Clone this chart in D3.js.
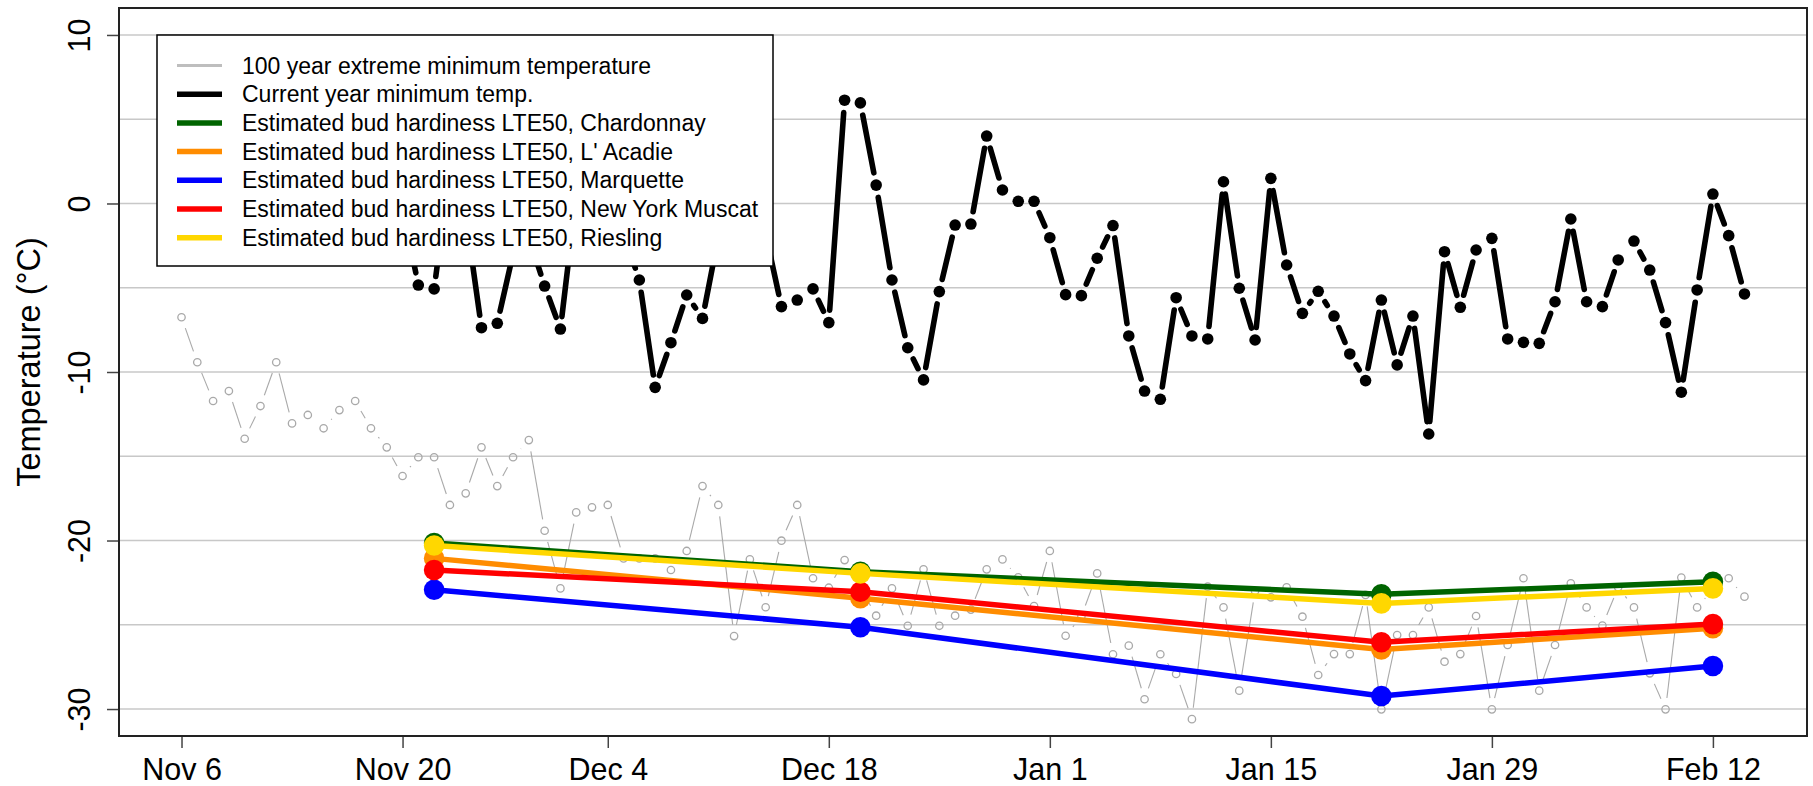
<!DOCTYPE html>
<html>
<head>
<meta charset="utf-8">
<script src="https://cdn.jsdelivr.net/npm/d3@7"></script>
<style>
  body { margin: 0; background: #fff; }
  svg { display: block; font-family: "Liberation Sans", Arial, sans-serif; }
</style>
</head>
<body>
<div id="my_dataviz"></div>
<script>
// x is the day index of the season (0 = Nov 6)
const tickDays = [0, 14, 27, 41, 55, 69, 83, 97];
const tickLabels = ["Nov 6", "Nov 20", "Dec 4", "Dec 18", "Jan 1", "Jan 15", "Jan 29", "Feb 12"];
const yTicks = [-30, -20, -10, 0, 10];
const yGrid = [-30, -25, -20, -15, -10, -5, 0, 5, 10];

// 100 year extreme minimum, day 0..99
const extremeMin = [-6.75, -9.42, -11.72, -11.13, -13.96, -12.02, -9.42, -13.05, -12.55, -13.34,
  -12.26, -11.72, -13.34, -14.47, -16.17, -15.06, -15.06, -17.89, -17.2, -14.47,
  -16.77, -15.06, -14.04, -19.42, -22.84, -18.33, -18.03, -17.89, -21.06, -21.06,
  -21.06, -21.75, -20.62, -16.77, -17.89, -25.67, -21.12, -23.96, -20.01, -17.89,
  -22.24, -22.8, -21.16, -22.8, -24.46, -22.84, -25.06, -21.71, -25.06, -24.46,
  -24.1, -21.71, -21.12, -22.18, -23.89, -20.62, -25.65, -24.5, -21.95, -26.75,
  -26.24, -29.42, -26.75, -27.92, -30.6, -22.74, -23.97, -28.91, -23.0, -23.37,
  -22.78, -24.52, -27.98, -26.74, -26.74, -23.23, -30.02, -25.61, -25.61, -23.97,
  -27.19, -26.74, -24.48, -30.02, -26.2, -22.24, -28.91, -26.2, -22.54, -23.97,
  -25.05, -22.78, -23.97, -27.88, -30.02, -22.2, -23.97, -22.9, -22.24, -23.33];

// current year minimum, day 14..99
const currentStart = 14;
const currentMin = [-0.3, -4.84, -5.07, 2.0, -0.7, -7.37, -7.11, -3.0, -2.0, -4.9,
  -7.45, 0.4, 1.0, 0.0, -1.8, -4.54, -10.91, -8.26, -5.43, -6.82,
  -2.0, -1.0, 0.5, -1.8, -6.12, -5.73, -5.07, -7.07, 6.13, 5.97,
  1.09, -4.54, -8.56, -10.47, -5.23, -1.28, -1.22, 4.0, 0.8, 0.13,
  0.13, -2.03, -5.41, -5.47, -3.25, -1.31, -7.86, -11.13, -11.62, -5.59,
  -7.86, -8.04, 1.29, -5.03, -8.1, 1.49, -3.65, -6.52, -5.21, -6.68,
  -8.93, -10.51, -5.73, -9.58, -6.68, -13.68, -2.86, -6.16, -2.76, -2.07,
  -8.04, -8.24, -8.3, -5.83, -0.92, -5.83, -6.12, -3.35, -2.23, -3.95,
  -7.07, -11.2, -5.13, 0.56, -1.91, -5.37];

// bud hardiness estimates
const hardyDays = [16, 43, 76, 97];
const chardonnay = [-20.15, -21.85, -23.19, -22.45];
const lacadie = [-21.06, -23.43, -26.46, -25.21];
const marquette = [-22.92, -25.15, -29.23, -27.45];
const nyMuscat = [-21.75, -23.04, -26.04, -24.96];
const riesling = [-20.3, -21.95, -23.73, -22.84];

const hardySeries = [
  {name: "Estimated bud hardiness LTE50, Chardonnay", color: "#006400", values: chardonnay},
  {name: "Estimated bud hardiness LTE50, L' Acadie", color: "#FF8C00", values: lacadie},
  {name: "Estimated bud hardiness LTE50, Marquette", color: "#0000FF", values: marquette},
  {name: "Estimated bud hardiness LTE50, New York Muscat", color: "#FF0000", values: nyMuscat},
  {name: "Estimated bud hardiness LTE50, Riesling", color: "#FFD700", values: riesling}
];

const W = 1813, H = 786;
const plot = {left: 119, right: 1807, top: 8, bottom: 736};

let svg = d3.select("#my_dataviz").append("svg")
    .attr("width", W)
    .attr("height", H);

// R style: data range padded by 4%
let x = d3.scaleLinear().domain([-3.96, 102.96]).range([plot.left, plot.right]);
let y = d3.scaleLinear().domain([-31.6, 11.6]).range([plot.bottom, plot.top]);

// grid
svg.append("g").selectAll("line")
    .data(yGrid)
    .join("line")
    .attr("x1", plot.left).attr("x2", plot.right)
    .attr("y1", d => y(d)).attr("y2", d => y(d))
    .attr("stroke", "#c8c8c8")
    .attr("stroke-width", 1.6);

// type "b" lines: segments shortened so they stop short of the points
function gappedSegments(pts, gap) {
    let segs = [];
    for (let i = 1; i < pts.length; i++) {
        let p = pts[i - 1], q = pts[i];
        let dx = q[0] - p[0], dy = q[1] - p[1];
        let d = Math.sqrt(dx * dx + dy * dy);
        if (d <= 2 * gap) continue;
        let ux = dx / d, uy = dy / d;
        segs.push([p[0] + ux * gap, p[1] + uy * gap, q[0] - ux * gap, q[1] - uy * gap]);
    }
    return segs;
}

// 100 year extreme minimum
let grayPts = extremeMin.map((v, i) => [x(i), y(v)]);
svg.append("g").selectAll("line")
    .data(gappedSegments(grayPts, 11.5))
    .join("line")
    .attr("x1", d => d[0]).attr("y1", d => d[1])
    .attr("x2", d => d[2]).attr("y2", d => d[3])
    .attr("stroke", "#a9a9a9")
    .attr("stroke-width", 1.1);
svg.append("g").selectAll("circle")
    .data(grayPts)
    .join("circle")
    .attr("cx", d => d[0]).attr("cy", d => d[1])
    .attr("r", 3.7)
    .attr("fill", "none")
    .attr("stroke", "#a9a9a9")
    .attr("stroke-width", 1.3);

// current year minimum
let blackPts = currentMin.map((v, i) => [x(i + currentStart), y(v)]);
svg.append("g").selectAll("line")
    .data(gappedSegments(blackPts, 12.5))
    .join("line")
    .attr("x1", d => d[0]).attr("y1", d => d[1])
    .attr("x2", d => d[2]).attr("y2", d => d[3])
    .attr("stroke", "#000")
    .attr("stroke-width", 5.6)
    .attr("stroke-linecap", "round");
svg.append("g").selectAll("circle")
    .data(blackPts)
    .join("circle")
    .attr("cx", d => d[0]).attr("cy", d => d[1])
    .attr("r", 5.8)
    .attr("fill", "#000");

// hardiness lines with big points
const hardyLine = d3.line()
    .x((d, i) => x(hardyDays[i]))
    .y(d => y(d));

hardySeries.forEach(s => {
    let g = svg.append("g");
    g.append("path")
        .attr("d", hardyLine(s.values))
        .attr("fill", "none")
        .attr("stroke", s.color)
        .attr("stroke-width", 5.5);
    g.selectAll("circle")
        .data(s.values)
        .join("circle")
        .attr("cx", (d, i) => x(hardyDays[i]))
        .attr("cy", d => y(d))
        .attr("r", 10.3)
        .attr("fill", s.color);
});

// axes
let xAxis = svg.append("g")
    .attr("transform", "translate(0," + plot.bottom + ")")
    .call(d3.axisBottom(x).tickValues(tickDays).tickFormat((d, i) => tickLabels[i]).tickSize(12));
xAxis.select(".domain").remove();
xAxis.selectAll("line").attr("stroke", "#444").attr("stroke-width", 1.5);
xAxis.selectAll("text")
    .attr("y", 44).attr("dy", 0)
    .attr("fill", "#000")
    .style("font-size", "30.5px")
    .style("font-family", "Liberation Sans, Arial, sans-serif");

let yAxis = svg.append("g")
    .attr("transform", "translate(" + plot.left + ",0)")
    .call(d3.axisLeft(y).tickValues(yTicks).tickFormat(d => String(d)).tickSize(12));
yAxis.select(".domain").remove();
yAxis.selectAll("line").attr("stroke", "#444").attr("stroke-width", 1.5);
yAxis.selectAll("text")
    .attr("transform", "rotate(-90)")
    .attr("x", 0).attr("y", -29).attr("dy", 0)
    .attr("text-anchor", "middle")
    .attr("fill", "#000")
    .style("font-size", "30.5px")
    .style("font-family", "Liberation Sans, Arial, sans-serif");

svg.append("text")
    .attr("transform", "translate(40,362) rotate(-90)")
    .attr("text-anchor", "middle")
    .style("font-size", "32.5px")
    .text("Temperature (°C)");

// plot box
svg.append("rect")
    .attr("x", plot.left).attr("y", plot.top)
    .attr("width", plot.right - plot.left)
    .attr("height", plot.bottom - plot.top)
    .attr("fill", "none")
    .attr("stroke", "#222")
    .attr("stroke-width", 2);

// legend
const legendItems = [
    {name: "100 year extreme minimum temperature", color: "#bebebe", width: 3},
    {name: "Current year minimum temp.", color: "#000", width: 5.5}
].concat(hardySeries.map(s => ({name: s.name, color: s.color, width: 5.5})));

let legend = svg.append("g");
legend.append("rect")
    .attr("x", 157).attr("y", 35)
    .attr("width", 616).attr("height", 231)
    .attr("fill", "#fff")
    .attr("stroke", "#000")
    .attr("stroke-width", 1.5);
let rows = legend.selectAll("g.row")
    .data(legendItems)
    .join("g")
    .attr("class", "row")
    .attr("transform", (d, i) => "translate(0," + (65.5 + i * 28.7) + ")");
rows.append("line")
    .attr("x1", 177).attr("x2", 222)
    .attr("stroke", d => d.color)
    .attr("stroke-width", d => d.width);
rows.append("text")
    .attr("x", 242).attr("y", 8)
    .style("font-size", "23px")
    .text(d => d.name);
</script>
</body>
</html>
